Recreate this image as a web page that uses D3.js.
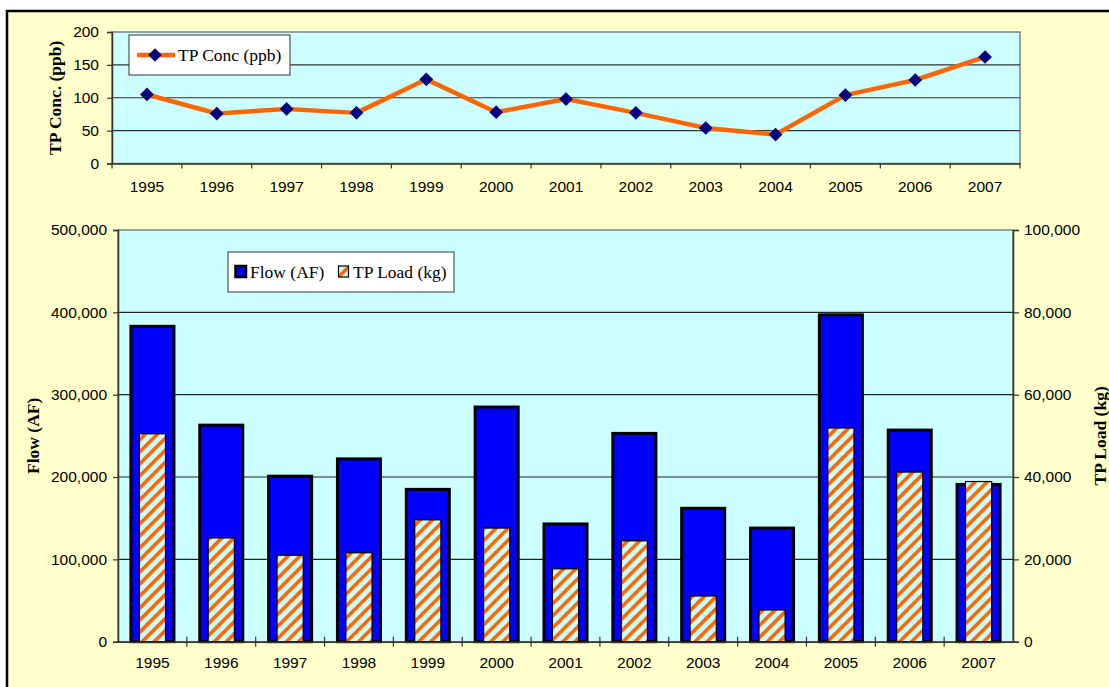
<!DOCTYPE html>
<html>
<head>
<meta charset="utf-8">
<script src="https://cdn.jsdelivr.net/npm/d3@7"></script>
<style>
  body { margin: 0; background: #fff; }
  svg { display: block; }
</style>
</head>
<body>
<script>
// values
const years = ["1995","1996","1997","1998","1999","2000","2001","2002","2003","2004","2005","2006","2007"];
const tpConc = [105, 76, 83, 77, 128, 78, 98, 77, 54, 44, 104, 127, 162];
const flow = [383000, 263000, 201000, 222000, 185000, 285000, 143000, 253000, 162000, 138000, 397000, 257000, 191000];
const tpLoad = [50500, 25200, 21000, 21600, 29600, 27600, 17700, 24500, 11100, 7700, 51900, 41200, 38900];
const concTicks = [0, 50, 100, 150, 200];
const flowTicks = [0, 100000, 200000, 300000, 400000, 500000];
const loadTicks = [0, 20000, 40000, 60000, 80000, 100000];

const W = 1109, H = 687;
const tickFont = "'Liberation Sans', Arial, sans-serif";
const serif = "'Liberation Serif', 'Times New Roman', serif";
const fmt = d3.format(",");

const svg = d3.select("body").append("svg").attr("width", W).attr("height", H);

var defs = svg.append("defs");
var pat = defs.append("pattern")
  .attr("id", "hatch")
  .attr("patternUnits", "userSpaceOnUse")
  .attr("width", 8.5).attr("height", 8.5)
  .attr("patternTransform", "rotate(45)");
pat.append("rect").attr("width", 8.5).attr("height", 8.5).attr("fill", "#CCFFFF");
pat.append("rect").attr("x", 0).attr("width", 3.6).attr("height", 8.5).attr("fill", "#FF6600");

// frame
svg.append("rect")
  .attr("x", 7).attr("y", 11)
  .attr("width", 1120).attr("height", 700)
  .attr("fill", "#FFFFCC")
  .attr("stroke", "#000").attr("stroke-width", 2.5);

// ---------- top chart: TP concentration ----------
const t = { left: 112, right: 1020, top: 32, bottom: 163.5 };

var xTop = d3.scaleBand().domain(years).range([t.left, t.right]);
var yTop = d3.scaleLinear().domain([0, 200]).range([t.bottom, t.top]);

var gTop = svg.append("g");
gTop.append("rect")
  .attr("x", t.left).attr("y", t.top)
  .attr("width", t.right - t.left).attr("height", t.bottom - t.top)
  .attr("fill", "#CCFFFF").attr("stroke", "#808080").attr("stroke-width", 1.5);

gTop.selectAll("line.grid")
  .data(concTicks.slice(1, -1))
  .enter().append("line")
  .attr("class", "grid")
  .attr("x1", t.left).attr("x2", t.right)
  .attr("y1", d => yTop(d)).attr("y2", d => yTop(d))
  .attr("stroke", "#333").attr("stroke-width", 1.2);

var yAxisTop = gTop.append("g")
  .attr("transform", "translate(" + t.left + ",0)")
  .call(d3.axisLeft(yTop).tickValues(concTicks).tickSize(5).tickPadding(8));

var xAxisTop = gTop.append("g")
  .attr("transform", "translate(0," + t.bottom + ")")
  .call(d3.axisBottom(xTop).tickSize(0).tickPadding(17));

// ticks between categories
gTop.selectAll("line.xtick")
  .data(d3.range(years.length + 1))
  .enter().append("line")
  .attr("class", "xtick")
  .attr("x1", i => t.left + i * xTop.step()).attr("x2", i => t.left + i * xTop.step())
  .attr("y1", t.bottom).attr("y2", t.bottom + 5)
  .attr("stroke", "#333").attr("stroke-width", 1.2);

var line = d3.line()
  .x((d, i) => xTop(years[i]) + xTop.bandwidth() / 2)
  .y(d => yTop(d));

gTop.append("path")
  .datum(tpConc)
  .attr("d", line)
  .attr("fill", "none")
  .attr("stroke", "#FF6600")
  .attr("stroke-width", 4.5)
  .attr("stroke-linejoin", "round");

gTop.selectAll("path.mark")
  .data(tpConc)
  .enter().append("path")
  .attr("class", "mark")
  .attr("d", d3.symbol().type(d3.symbolDiamond2).size(120))
  .attr("transform", (d, i) => "translate(" + (xTop(years[i]) + xTop.bandwidth() / 2) + "," + yTop(d) + ") ")
  .attr("fill", "#000080");

// legend top
var legTop = gTop.append("g");
legTop.append("rect")
  .attr("x", 129).attr("y", 35).attr("width", 161).attr("height", 40)
  .attr("fill", "#fff").attr("stroke", "#333").attr("stroke-width", 1);
legTop.append("line")
  .attr("x1", 137).attr("x2", 175).attr("y1", 55).attr("y2", 55)
  .attr("stroke", "#FF6600").attr("stroke-width", 4.5);
legTop.append("path")
  .attr("d", d3.symbol().type(d3.symbolDiamond2).size(120))
  .attr("transform", "translate(155,55)")
  .attr("fill", "#000080");
legTop.append("text")
  .attr("x", 178).attr("y", 61)
  .attr("font-family", serif).attr("font-size", 17.5)
  .text("TP Conc (ppb)");

// y title top
svg.append("text")
  .attr("transform", "translate(55," + ((t.top + t.bottom) / 2) + ") rotate(-90)")
  .attr("text-anchor", "middle").attr("dominant-baseline", "central")
  .attr("font-family", serif).attr("font-weight", "bold").attr("font-size", 17.5)
  .text("TP Conc. (ppb)");

// ---------- bottom chart: flow and load ----------
const b = { left: 118, right: 1013, top: 230, bottom: 641.7 };

var xBot = d3.scaleBand().domain(years).range([b.left, b.right]);
var yFlow = d3.scaleLinear().domain([0, 500000]).range([b.bottom, b.top]);
var yLoad = d3.scaleLinear().domain([0, 100000]).range([b.bottom, b.top]);

var gBot = svg.append("g");
gBot.append("rect")
  .attr("x", b.left).attr("y", b.top)
  .attr("width", b.right - b.left).attr("height", b.bottom - b.top)
  .attr("fill", "#CCFFFF").attr("stroke", "#808080").attr("stroke-width", 1.5);

gBot.selectAll("line.grid")
  .data(flowTicks.slice(1, -1))
  .enter().append("line")
  .attr("class", "grid")
  .attr("x1", b.left).attr("x2", b.right)
  .attr("y1", d => yFlow(d)).attr("y2", d => yFlow(d))
  .attr("stroke", "#222").attr("stroke-width", 1.2);

var flowW = xBot.bandwidth() * 0.625;
var loadW = xBot.bandwidth() * 0.38;

gBot.selectAll("rect.flow")
  .data(flow)
  .enter().append("rect")
  .attr("class", "flow")
  .attr("x", (d, i) => xBot(years[i]) + (xBot.bandwidth() - flowW) / 2)
  .attr("y", d => yFlow(d))
  .attr("width", flowW)
  .attr("height", d => b.bottom - yFlow(d))
  .attr("fill", "#0000FF")
  .attr("stroke", "#000").attr("stroke-width", 3);

gBot.selectAll("rect.load")
  .data(tpLoad)
  .enter().append("rect")
  .attr("class", "load")
  .attr("x", (d, i) => xBot(years[i]) + (xBot.bandwidth() - loadW) / 2)
  .attr("y", d => yLoad(d))
  .attr("width", loadW)
  .attr("height", d => b.bottom - yLoad(d))
  .attr("fill", "url(#hatch)")
  .attr("stroke", "#000").attr("stroke-width", 1.2);

var yAxisFlow = gBot.append("g")
  .attr("transform", "translate(" + b.left + ",0)")
  .call(d3.axisLeft(yFlow).tickValues(flowTicks).tickFormat(fmt).tickSize(5).tickPadding(6));

var yAxisLoad = gBot.append("g")
  .attr("transform", "translate(" + b.right + ",0)")
  .call(d3.axisRight(yLoad).tickValues(loadTicks).tickFormat(fmt).tickSize(6).tickPadding(5));

var xAxisBot = gBot.append("g")
  .attr("transform", "translate(0," + b.bottom + ")")
  .call(d3.axisBottom(xBot).tickSize(0).tickPadding(15));

gBot.selectAll("line.xtick")
  .data(d3.range(1, years.length))
  .enter().append("line")
  .attr("class", "xtick")
  .attr("x1", i => b.left + i * xBot.step()).attr("x2", i => b.left + i * xBot.step())
  .attr("y1", b.bottom - 5).attr("y2", b.bottom + 5)
  .attr("stroke", "#333").attr("stroke-width", 1.2);

// legend bottom
var legBot = gBot.append("g");
legBot.append("rect")
  .attr("x", 228).attr("y", 252).attr("width", 226).attr("height", 40)
  .attr("fill", "#fff").attr("stroke", "#333").attr("stroke-width", 1);
legBot.append("rect")
  .attr("x", 235.5).attr("y", 266).attr("width", 10.5).attr("height", 11)
  .attr("fill", "#0000FF").attr("stroke", "#000").attr("stroke-width", 2.5);
legBot.append("text")
  .attr("x", 250).attr("y", 278)
  .attr("font-family", serif).attr("font-size", 17.5)
  .text("Flow (AF)");
legBot.append("rect")
  .attr("x", 338.5).attr("y", 266).attr("width", 10).attr("height", 11)
  .attr("fill", "url(#hatch)").attr("stroke", "#000").attr("stroke-width", 1.2);
legBot.append("text")
  .attr("x", 353).attr("y", 278)
  .attr("font-family", serif).attr("font-size", 17.5)
  .text("TP Load (kg)");

// axis titles bottom
svg.append("text")
  .attr("transform", "translate(33," + ((b.top + b.bottom) / 2) + ") rotate(-90)")
  .attr("text-anchor", "middle").attr("dominant-baseline", "central")
  .attr("font-family", serif).attr("font-weight", "bold").attr("font-size", 17.5)
  .text("Flow (AF)");

svg.append("text")
  .attr("transform", "translate(1100," + ((b.top + b.bottom) / 2) + ") rotate(-90)")
  .attr("text-anchor", "middle").attr("dominant-baseline", "central")
  .attr("font-family", serif).attr("font-weight", "bold").attr("font-size", 17.5)
  .text("TP Load (kg)");

// shared axis styling
svg.selectAll(".tick text")
  .attr("font-family", tickFont).attr("font-size", 15.5).attr("fill", "#000");
svg.selectAll(".domain").attr("stroke", "#333").attr("stroke-width", 1.5);
svg.selectAll(".tick line").attr("stroke", "#333").attr("stroke-width", 1.2);
</script>
</body>
</html>
